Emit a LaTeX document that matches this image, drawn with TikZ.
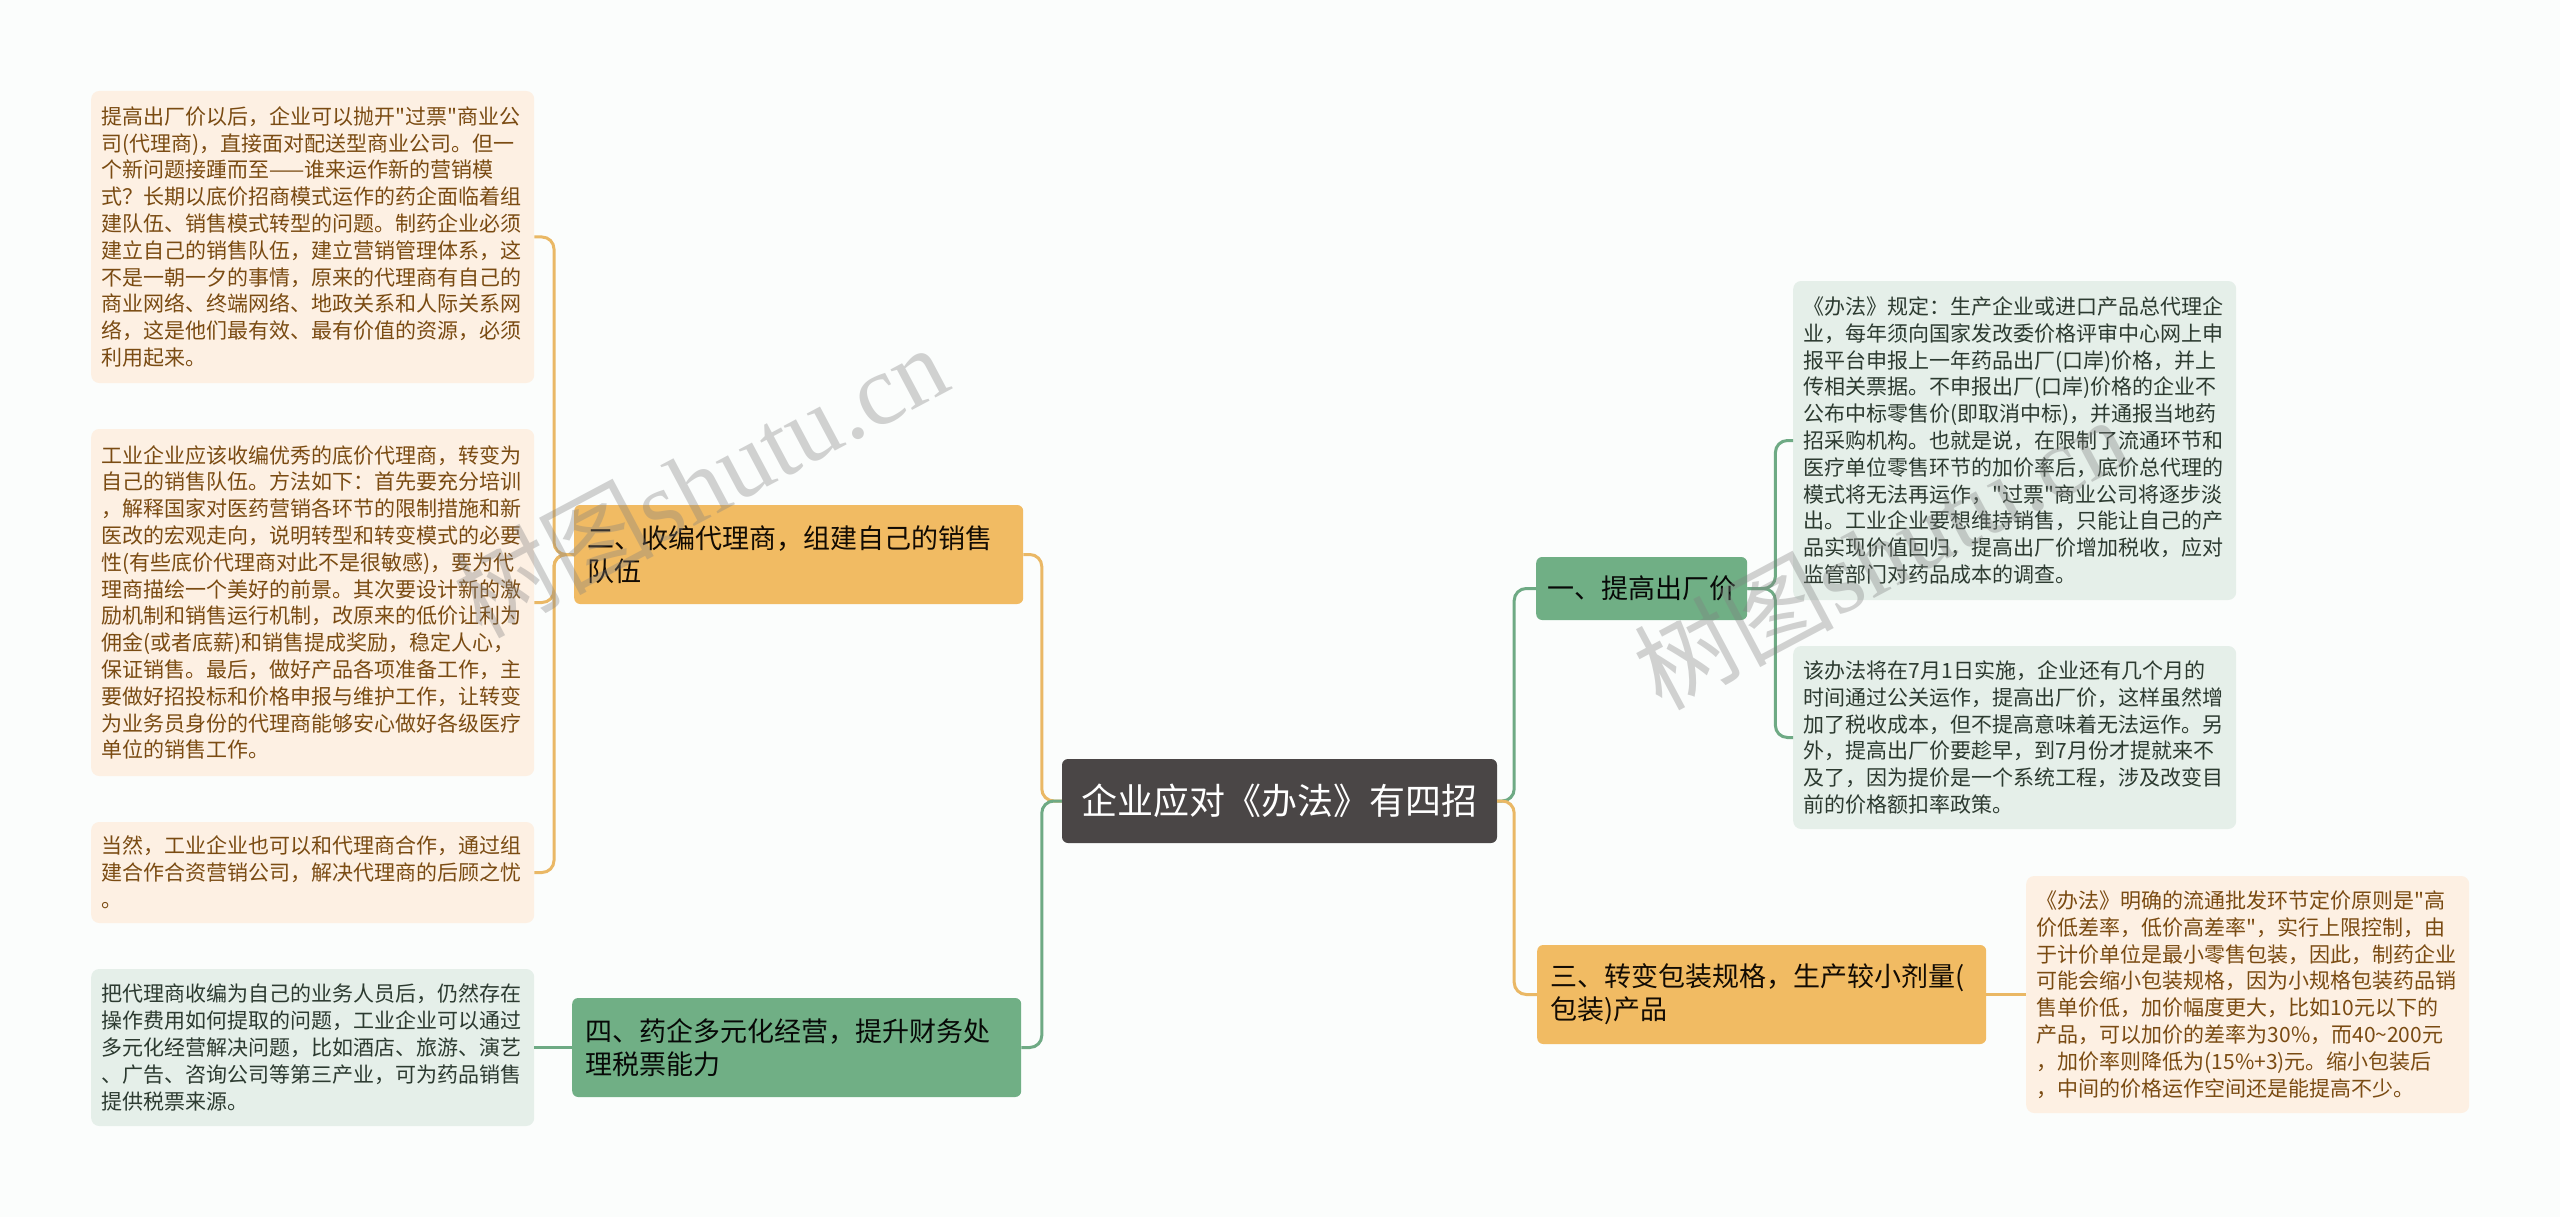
\documentclass[tikz,border=0pt]{standalone}
\usepackage{fontspec}
\setmainfont{Noto Sans CJK SC}[Ligatures=TeXOff]
\newfontfamily\wmfont{Liberation Serif}

\definecolor{bgcol}{HTML}{FBFDFC}
\definecolor{rootcol}{HTML}{4A4646}
\definecolor{orangecol}{HTML}{F1BB63}
\definecolor{greencol}{HTML}{70AF85}
\definecolor{orangeleaf}{HTML}{FDF0E3}
\definecolor{greenleaf}{HTML}{E5EFE9}
\definecolor{orangetext}{HTML}{7A4B12}
\definecolor{greentext}{HTML}{2C3A30}
\definecolor{orangeline}{HTML}{EAB865}
\definecolor{greenline}{HTML}{6EAA84}

\tikzset{
  root/.style={fill=rootcol, text=white, rounded corners=6pt, minimum width=435pt,
    minimum height=84pt, font=\fontsize{36}{42}\selectfont},
  branch/.style={rounded corners=6pt, align=left, anchor=west, inner xsep=13pt,
    inner ysep=0pt, minimum height=99pt, text width=423pt, font=\fontsize{27}{33}\selectfont},
  brancho/.style={branch, fill=orangecol, text=black!85!orangetext},
  branchg/.style={branch, fill=greencol, text=black!85!greentext},
  leaf/.style={rounded corners=8pt, align=left, anchor=west, inner xsep=10.5pt,
    inner ysep=0pt, text width=422pt, font=\fontsize{21}{26.8}\selectfont},
  leafo/.style={leaf, fill=orangeleaf, text=orangetext},
  leafg/.style={leaf, fill=greenleaf, text=greentext},
  lineo/.style={draw=orangeline, line width=3pt, rounded corners=12pt},
  lineg/.style={draw=greenline, line width=3pt, rounded corners=12pt},
  wm/.style={text=gray, text opacity=0.35, rotate=28, inner sep=0pt},
}

\begin{document}
\begin{tikzpicture}[x=1pt, y=-1pt]
  \fill[bgcol] (0,0) rectangle (2560,1217);
  \useasboundingbox (0,0) rectangle (2560,1217);

  \node[root] (root) at (1279.5,801) {企业应对《办法》有四招};

  \node[brancho] (b2) at (574,554.5) {二、收编代理商，组建自己的销售\\队伍};
  \node[branchg] (b4) at (572,1047.5) {四、药企多元化经营，提升财务处\\理税票能力};
  \node[branchg, text width=189pt, inner xsep=11pt, minimum height=63pt] (b1) at (1536,588.5) {一、提高出厂价};
  \node[brancho] (b3) at (1537,994.5) {三、转变包装规格，生产较小剂量(\\包装)产品};

  \node[leafo, minimum height=292pt] (l1) at (91,237) {提高出厂价以后，企业可以抛开"过票"商业公\\司(代理商)，直接面对配送型商业公司。但一\\个新问题接踵而至——谁来运作新的营销模\\式？长期以底价招商模式运作的药企面临着组\\建队伍、销售模式转型的问题。制药企业必须\\建立自己的销售队伍，建立营销管理体系，这\\不是一朝一夕的事情，原来的代理商有自己的\\商业网络、终端网络、地政关系和人际关系网\\络，这是他们最有效、最有价值的资源，必须\\利用起来。};
  \node[leafo, minimum height=347pt] (l2) at (91,602.5) {工业企业应该收编优秀的底价代理商，转变为\\自己的销售队伍。方法如下：首先要充分培训\\，解释国家对医药营销各环节的限制措施和新\\医改的宏观走向，说明转型和转变模式的必要\\性(有些底价代理商对此不是很敏感)，要为代\\理商描绘一个美好的前景。其次要设计新的激\\励机制和销售运行机制，改原来的低价让利为\\佣金(或者底薪)和销售提成奖励，稳定人心，\\保证销售。最后，做好产品各项准备工作，主\\要做好招投标和价格申报与维护工作，让转变\\为业务员身份的代理商能够安心做好各级医疗\\单位的销售工作。};
  \node[leafo, minimum height=101pt] (l3) at (91,872.5) {当然，工业企业也可以和代理商合作，通过组\\建合作合资营销公司，解决代理商的后顾之忧\\。};
  \node[leafg, minimum height=157pt] (l4) at (91,1047.5) {把代理商收编为自己的业务人员后，仍然存在\\操作费用如何提取的问题，工业企业可以通过\\多元化经营解决问题，比如酒店、旅游、演艺\\、广告、咨询公司等第三产业，可为药品销售\\提供税票来源。};

  \node[leafg, minimum height=319pt] (r1) at (1793,440.5) {《办法》规定：生产企业或进口产品总代理企\\业，每年须向国家发改委价格评审中心网上申\\报平台申报上一年药品出厂(口岸)价格，并上\\传相关票据。不申报出厂(口岸)价格的企业不\\公布中标零售价(即取消中标)，并通报当地药\\招采购机构。也就是说，在限制了流通环节和\\医疗单位零售环节的加价率后，底价总代理的\\模式将无法再运作，"过票"商业公司将逐步淡\\出。工业企业要想维持销售，只能让自己的产\\品实现价值回归，提高出厂价增加税收，应对\\监管部门对药品成本的调查。};
  \node[leafg, minimum height=183pt] (r2) at (1793,737.5) {该办法将在7月1日实施，企业还有几个月的\\时间通过公关运作，提高出厂价，这样虽然增\\加了税收成本，但不提高意味着无法运作。另\\外，提高出厂价要趁早，到7月份才提就来不\\及了，因为提价是一个系统工程，涉及改变目\\前的价格额扣率政策。};
  \node[leafo, minimum height=237pt] (r3) at (2026,994.5) {《办法》明确的流通批发环节定价原则是"高\\价低差率，低价高差率"，实行上限控制，由\\于计价单位是最小零售包装，因此，制药企业\\可能会缩小包装规格，因为小规格包装药品销\\售单价低，加价幅度更大，比如10元以下的\\产品，可以加价的差率为30\%，而40{\char"7E}200元\\，加价率则降低为(15\%+3)元。缩小包装后\\，中间的价格运作空间还是能提高不少。};

  \coordinate (jl) at ([xshift=-20pt]root.west);
  \coordinate (jr) at ([xshift=17pt]root.east);
  \draw[lineo] (root.west) -- (jl) |- (b2.east);
  \draw[lineg] (root.west) -- (jl) |- (b4.east);
  \draw[lineg] (root.east) -- (jr) |- (b1.west);
  \draw[lineo] (root.east) -- (jr) |- (b3.west);

  \coordinate (j2) at ([xshift=-20pt]b2.west);
  \foreach \l in {l1,l2,l3}
    \draw[lineo] (b2.west) -- (j2) |- (\l.east);
  \draw[lineg] (b4.west) -- (l4.east);

  \coordinate (j1) at ([xshift=28pt]b1.east);
  \foreach \r in {r1,r2}
    \draw[lineg] (b1.east) -- (j1) |- (\r.west);
  \draw[lineo] (b3.east) -- (r3.west);

  \node[wm] (wml) at (700,480) {\fontsize{100}{100}\selectfont 树图{\wmfont shutu.cn}};
  \node[wm] (wmr) at (1880,552) {\fontsize{100}{100}\selectfont 树图{\wmfont shutu.cn}};
\end{tikzpicture}
\end{document}
